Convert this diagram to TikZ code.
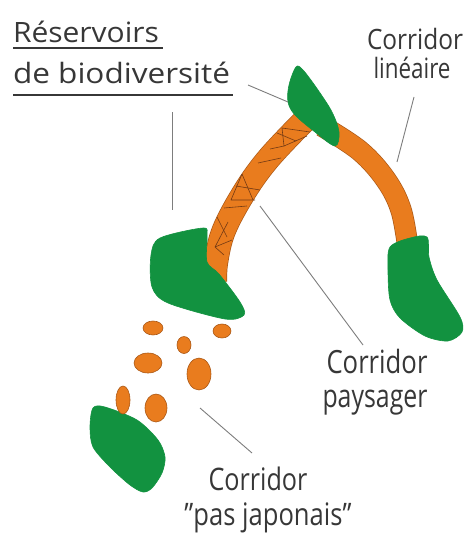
\documentclass[tikz,border=0pt]{standalone}
\usepackage{fontspec}
\setmainfont{Open Sans}
\usepackage{graphicx}
\definecolor{blobgreen}{RGB}{18,146,64}
\definecolor{corange}{RGB}{233,124,30}
\definecolor{cedge}{RGB}{170,88,22}
\definecolor{mesh}{RGB}{115,58,20}
\definecolor{txt}{RGB}{55,55,55}
\definecolor{leader}{RGB}{125,125,125}
\tikzset{
  blob/.style={fill=blobgreen, draw=blobgreen, line width=0.6pt},
  pad/.style={fill=corange, draw=cedge, line width=0.6pt},
  bandedge/.style={draw=cedge, line width=#1+1.4pt, line cap=butt},
  bandfill/.style={draw=corange, line width=#1, line cap=butt},
  meshline/.style={draw=mesh, line width=0.6pt, line join=round},
  lbl/.style={inner sep=0pt, outer sep=0pt, text=txt, anchor=base},
  leaderline/.style={draw=leader, line width=0.9pt},
  uline/.style={draw=txt, line width=1.3pt}
}
\begin{document}
\begin{tikzpicture}[x=1pt,y=-1pt]
\useasboundingbox (0,0) rectangle (468,535);

% ---- corridor bands (under the reservoirs)
\draw[bandedge=23pt] plot[smooth, tension=0.6] coordinates {(304,121) (269,158) (245,191) (224,230) (216,262) (215,282)};
\draw[bandfill=23pt] plot[smooth, tension=0.6] coordinates {(304,121) (269,158) (245,191) (224,230) (216,262) (215,282)};
\draw[bandedge=20pt] plot[smooth, tension=0.6] coordinates {(322,126) (360,151) (386,180) (401,210) (408,248)};
\draw[bandfill=20pt] plot[smooth, tension=0.6] coordinates {(322,126) (360,151) (386,180) (401,210) (408,248)};

% ---- mesh of the landscape corridor
\draw[meshline] (282,128) -- (310,132);
\draw[meshline] (282,128) -- (284,146) -- (307,136);
\draw[meshline] (270,149) -- (284,146);
\draw[meshline] (277,133) -- (296,141);
\draw[meshline] (258,163) -- (281,158);
\draw[meshline] (242,174) -- (253,200);
\draw[meshline] (242,174) -- (231,200) -- (255,200);
\draw[meshline] (236,186) -- (260,190);
\draw[meshline] (224,208) -- (247,206);
\draw[meshline] (217,217) -- (227,237);
\draw[meshline] (228,222) -- (215,247) -- (232,240);
\draw[meshline] (215,247) -- (224,255);

% ---- reservoirs
\path[blob] plot[smooth cycle, tension=0.55] coordinates {(296,67) (289,85) (288,102) (295,115) (315,132) (335,146) (339,132) (332,112) (318,90) (303,70)};
\path[blob] plot[smooth cycle, tension=0.5] coordinates {(160,238) (203,228) (207,236) (207,262) (219,274) (240,302) (244,315) (225,319) (168,303) (152,287) (151,255)};
\path[blob] plot[smooth cycle, tension=0.5] coordinates {(390,247) (410,238) (427,237) (429,257) (437,280) (460,317) (462,332) (448,341) (425,336) (400,318) (390,300) (388,270)};
\path[blob] plot[smooth cycle, tension=0.5] coordinates {(93,408) (105,407) (137,420) (158,440) (165,457) (162,473) (152,488) (143,492) (130,485) (110,467) (93,447) (90,427)};

% ---- stepping stones
\path[pad] (153,328) ellipse [x radius=10, y radius=7];
\path[pad] (222,331) ellipse [x radius=9, y radius=7];
\path[pad] (184,345) ellipse [x radius=7, y radius=8.5];
\path[pad] (148,363) ellipse [x radius=14, y radius=10];
\path[pad] (199,374) ellipse [x radius=12, y radius=16];
\path[pad] (123,400) ellipse [x radius=7, y radius=14];
\path[pad] (156,408) ellipse [x radius=11, y radius=14];

% ---- labels
\node[lbl, anchor=base west, font=\fontsize{28}{30}\selectfont] (res1) at (13,43) {\resizebox{146pt}{\height}{Réservoirs}};
\node[lbl, anchor=base west, font=\fontsize{28}{30}\selectfont] (res2) at (13,83) {\resizebox{217pt}{\height}{de biodiversité}};
\node[lbl, font=\fontsize{28}{30}\selectfont] (lin1) at (415,50) {\resizebox{96pt}{\height}{Corridor}};
\node[lbl, font=\fontsize{28}{30}\selectfont] (lin2) at (412,78) {\resizebox{77pt}{\height}{linéaire}};
\node[lbl, font=\fontsize{32}{34}\selectfont] (pay1) at (377,373) {\resizebox{101pt}{\height}{Corridor}};
\node[lbl, font=\fontsize{32}{34}\selectfont] (pay2) at (375,407) {\resizebox{105pt}{\height}{paysager}};
\node[lbl, font=\fontsize{31}{33}\selectfont] (pj1) at (258,490) {\resizebox{99pt}{\height}{Corridor}};
\node[lbl, font=\fontsize{31}{33}\selectfont] (pj2) at (268,525) {\resizebox{167pt}{\height}{"pas japonais"}};

% underlines
\coordinate (u1a) at (13,48);  \coordinate (u1b) at (163,48);
\coordinate (u2a) at (13,95);  \coordinate (u2b) at (233,95);
\draw[uline] (u1a) -- (u1b);
\draw[uline] (u2a) -- (u2b);

% ---- leader lines
\coordinate (l1a) at (172,112); \coordinate (l1b) at (172,210);
\coordinate (l2a) at (248,85);  \coordinate (l2b) at (288,102);
\coordinate (l3a) at (414,97);  \coordinate (l3b) at (397,162);
\coordinate (l4a) at (260,206); \coordinate (l4b) at (363,345);
\coordinate (l5a) at (200,408); \coordinate (l5b) at (252,453);
\draw[leaderline] (l1a) -- (l1b);
\draw[leaderline] (l2a) -- (l2b);
\draw[leaderline] (l3a) -- (l3b);
\draw[leaderline] (l4a) -- (l4b);
\draw[leaderline] (l5a) -- (l5b);
\end{tikzpicture}
\end{document}
